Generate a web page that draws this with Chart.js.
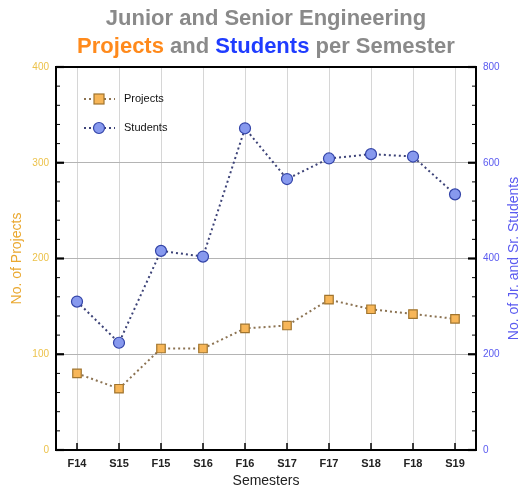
<!DOCTYPE html>
<html>
<head>
<meta charset="utf-8">
<script src="https://cdn.jsdelivr.net/npm/chart.js@4/dist/chart.umd.min.js"></script>
<style>
  html, body { margin: 0; padding: 0; background: #ffffff; }
  #wrap { width: 522px; height: 490px; }
</style>
</head>
<body>
<div id="wrap"><canvas id="chart" width="522" height="490"></canvas></div>
<script>
// Semesters on the x axis
const categories = ['F14', 'S15', 'F15', 'S16', 'F16', 'S17', 'F17', 'S18', 'F18', 'S19'];
// Number of projects per semester (left axis)
const projects = [80, 64, 106, 106, 127, 130, 157, 147, 142, 137];
// Number of junior and senior students per semester (right axis)
const students = [310, 224, 416, 404, 672, 566, 609, 618, 613, 534];
// Axis ranges and labelled ticks
const projectTicks = [0, 100, 200, 300, 400];
const studentTicks = [0, 200, 400, 600, 800];

const FONT = "'Liberation Sans', Arial, Helvetica, sans-serif";

const titleLines = [
  [{ text: 'Junior and Senior Engineering', color: '#8a8a8a' }],
  [
    { text: 'Projects', color: '#ff8a1c' },
    { text: ' and ', color: '#8a8a8a' },
    { text: 'Students', color: '#1f3cff' },
    { text: ' per Semester', color: '#8a8a8a' }
  ]
];

// Two-line title with coloured words
const titlePlugin = {
  id: 'mixedTitle',
  afterDraw(chart) {
    const ctx = chart.ctx;
    ctx.save();
    ctx.font = 'bold 22px ' + FONT;
    ctx.textBaseline = 'middle';
    ctx.textAlign = 'left';
    const cx = 266;
    const ys = [19, 47];
    titleLines.forEach((parts, i) => {
      const total = parts.reduce((s, p) => s + ctx.measureText(p.text).width, 0);
      let x = cx - total / 2;
      parts.forEach(p => {
        ctx.fillStyle = p.color;
        ctx.fillText(p.text, x, ys[i]);
        x += ctx.measureText(p.text).width;
      });
    });
    ctx.restore();
  }
};

// Right axis title, reading bottom to top
const rightTitlePlugin = {
  id: 'rightTitle',
  afterDraw(chart) {
    const { ctx, chartArea: a } = chart;
    ctx.save();
    ctx.translate(514, (a.top + a.bottom) / 2);
    ctx.rotate(-Math.PI / 2);
    ctx.font = '14px ' + FONT;
    ctx.fillStyle = '#5a5af0';
    ctx.textAlign = 'center';
    ctx.textBaseline = 'middle';
    ctx.fillText('No. of Jr. and Sr. Students', 0, 0);
    ctx.restore();
  }
};

// Plot frame and inward-pointing tick marks
const framePlugin = {
  id: 'frameTicks',
  afterDatasetsDraw(chart) {
    const { ctx, chartArea: a, scales } = chart;
    ctx.save();
    ctx.strokeStyle = '#000';
    ctx.lineCap = 'butt';
    const drawY = (scale, step, major, fromLeft) => {
      for (let v = scale.min; v <= scale.max; v += step) {
        const y = scale.getPixelForValue(v);
        const isMajor = v % major === 0;
        const len = isMajor ? 8 : 4;
        ctx.lineWidth = isMajor ? 2.2 : 1;
        ctx.beginPath();
        if (fromLeft) { ctx.moveTo(a.left, y); ctx.lineTo(a.left + len, y); }
        else { ctx.moveTo(a.right, y); ctx.lineTo(a.right - len, y); }
        ctx.stroke();
      }
    };
    drawY(scales.y, 20, 100, true);
    drawY(scales.y1, 40, 200, false);
    ctx.lineWidth = 1.5;
    categories.forEach((c, i) => {
      const x = scales.x.getPixelForValue(i);
      ctx.beginPath();
      ctx.moveTo(x, a.bottom);
      ctx.lineTo(x, a.bottom - 7);
      ctx.stroke();
    });
    ctx.lineWidth = 2;
    ctx.strokeRect(a.left, a.top, a.right - a.left, a.bottom - a.top);
    ctx.restore();
  }
};

// Legend inside the plot, top-left
const legendPlugin = {
  id: 'innerLegend',
  afterDraw(chart) {
    const { ctx, chartArea: a } = chart;
    const items = [
      { label: 'Projects', ds: chart.data.datasets[0], dy: 32 },
      { label: 'Students', ds: chart.data.datasets[1], dy: 61 }
    ];
    ctx.save();
    items.forEach(it => {
      const y = a.top + it.dy;
      const mx = a.left + 43;
      ctx.strokeStyle = it.ds.borderColor;
      ctx.lineWidth = 2;
      ctx.setLineDash([2, 3]);
      ctx.beginPath();
      ctx.moveTo(mx - 15, y);
      ctx.lineTo(mx + 16, y);
      ctx.stroke();
      ctx.setLineDash([]);
      ctx.fillStyle = it.ds.pointBackgroundColor;
      ctx.strokeStyle = it.ds.pointBorderColor;
      ctx.lineWidth = 1.2;
      if (it.ds.pointStyle === 'rect') {
        ctx.fillRect(mx - 5, y - 5, 10, 10);
        ctx.strokeRect(mx - 5, y - 5, 10, 10);
      } else {
        ctx.beginPath();
        ctx.arc(mx, y, 5.5, 0, Math.PI * 2);
        ctx.fill();
        ctx.stroke();
      }
      ctx.fillStyle = '#111';
      ctx.font = '11px ' + FONT;
      ctx.textBaseline = 'middle';
      ctx.fillText(it.label, a.left + 68, y);
    });
    ctx.restore();
  }
};

new Chart(document.getElementById('chart'), {
  type: 'line',
  data: {
    labels: categories,
    datasets: [
      {
        label: 'Projects',
        data: projects,
        yAxisID: 'y',
        borderColor: '#8c7352',
        borderWidth: 2,
        borderDash: [2, 3],
        pointStyle: 'rect',
        pointRadius: 6,
        pointBackgroundColor: '#f7b658',
        pointBorderColor: '#a0742e',
        pointBorderWidth: 1.2,
        tension: 0
      },
      {
        label: 'Students',
        data: students,
        yAxisID: 'y1',
        borderColor: '#3d4378',
        borderWidth: 2,
        borderDash: [2, 3],
        pointStyle: 'circle',
        pointRadius: 5.5,
        pointBackgroundColor: '#8799ee',
        pointBorderColor: '#3344a8',
        pointBorderWidth: 1.2,
        tension: 0
      }
    ]
  },
  options: {
    responsive: false,
    animation: false,
    events: [],
    layout: { padding: { top: 67, left: 0, right: 0, bottom: 0 } },
    plugins: {
      legend: { display: false },
      title: { display: false },
      tooltip: { enabled: false }
    },
    scales: {
      x: {
        type: 'category',
        offset: true,
        grid: { offset: false, color: '#d6d6d6', lineWidth: 1, drawTicks: false },
        border: { display: false },
        ticks: { color: '#222', font: { family: FONT, size: 11, weight: 'bold' }, padding: 7, maxRotation: 0 },
        title: { display: true, text: 'Semesters', color: '#222', font: { family: FONT, size: 14, lineHeight: 1 }, padding: { top: 0, bottom: 2 } },
        afterFit(s) { s.height = 40; }
      },
      y: {
        position: 'left',
        min: projectTicks[0],
        max: projectTicks[projectTicks.length - 1],
        ticks: {
          stepSize: 20,
          autoSkip: false,
          color: '#ecc24a',
          font: { family: FONT, size: 10 },
          padding: 7,
          callback: v => projectTicks.includes(v) ? String(v) : ''
        },
        grid: {
          drawTicks: false,
          lineWidth: 1,
          color: c => (c.tick && c.tick.value % 100 === 0 && c.tick.value > 0 && c.tick.value < 400) ? '#b4b4b4' : 'rgba(0,0,0,0)'
        },
        border: { display: false },
        title: { display: true, text: 'No. of Projects', color: '#eaa830', font: { family: FONT, size: 14, lineHeight: 1 }, padding: { top: 10, bottom: 0 } },
        afterFit(s) { s.width = 56; }
      },
      y1: {
        position: 'right',
        min: studentTicks[0],
        max: studentTicks[studentTicks.length - 1],
        ticks: {
          stepSize: 40,
          autoSkip: false,
          color: '#5a5af0',
          font: { family: FONT, size: 10 },
          padding: 7,
          callback: v => studentTicks.includes(v) ? String(v) : ''
        },
        grid: { drawOnChartArea: false, drawTicks: false },
        border: { display: false },
        title: { display: false },
        afterFit(s) { s.width = 46; }
      }
    }
  },
  plugins: [titlePlugin, rightTitlePlugin, framePlugin, legendPlugin]
});
</script>
</body>
</html>
